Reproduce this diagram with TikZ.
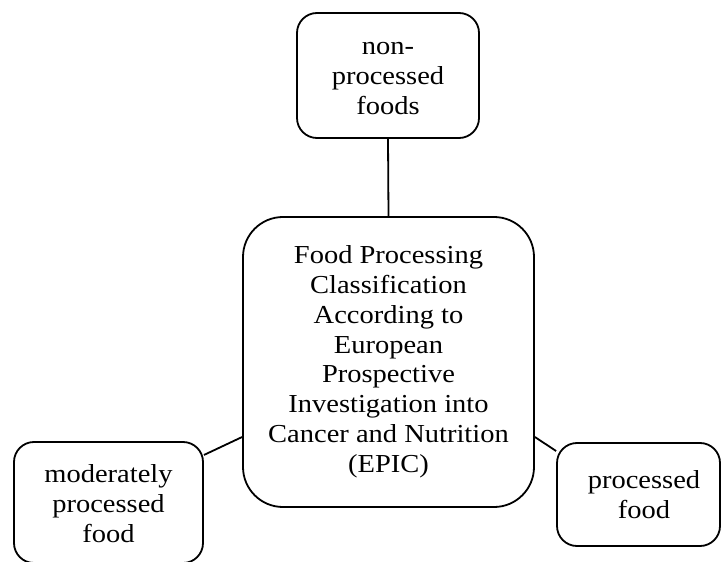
\documentclass[tikz,border=0pt]{standalone}
\usepackage{fontspec}
\setmainfont{Liberation Serif}[FakeStretch=1.1]
\newcommand\boxtext[2]{\raisebox{#1}[\height][\depth]{\begin{tabular}{@{}c@{}}#2\end{tabular}}}
\begin{document}
\begin{tikzpicture}[x=1bp,y=-1bp,
  box/.style={draw, line width=1.8bp, rectangle, rounded corners=#1, inner sep=0pt,
    font=\fontsize{26}{30}\selectfont},
  link/.style={line width=1.8bp}]
\useasboundingbox (0,0) rectangle (721,562);
\node[box=20bp, minimum width=182bp, minimum height=125bp] (top) at (388,75.5)
  {\boxtext{-3bp}{non-\\processed\\foods}};
\node[box=40bp, minimum width=291bp, minimum height=290bp] (mid) at (388.5,362)
  {\boxtext{0bp}{Food Processing\\Classification\\According to\\European\\Prospective\\Investigation into\\Cancer and Nutrition\\(EPIC)}};
\node[box=20bp, minimum width=189bp, minimum height=121bp] (left) at (108.5,502.5)
  {\boxtext{-4bp}{moderately\\processed\\food}};
\node[box=20bp, minimum width=163bp, minimum height=103bp] (right) at (638.5,494.5)
  {\hspace*{11bp}\boxtext{-3bp}{processed\\food}};
\draw[link] (top.south) -- (mid.north);
\draw[link] ([yshift=47.5bp]left.east) -- ([yshift=-75bp]mid.west);
\draw[link] ([yshift=-75bp]mid.east) -- ([yshift=43.5bp]right.west);
\end{tikzpicture}
\end{document}
